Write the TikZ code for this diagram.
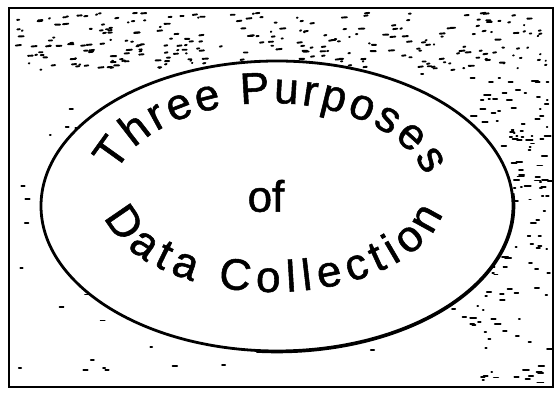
\documentclass[tikz,border=0pt]{standalone}
\usepackage{fontspec}
\newfontfamily\letterfont[FakeBold=1.2]{Liberation Sans}
\usetikzlibrary{decorations.text,shapes.geometric}
\tikzset{
  frame/.style={line width=2pt, draw=black},
  oval/.style={line width=2.8pt, draw=black, fill=white},
  speck/.style={line width=1.9pt, draw=black, line cap=round},
  arctext/.style={decorate, decoration={text along path, text align={fit to path}}}
}
\newcommand{\lettering}{\letterfont\fontsize{44}{44}\selectfont}
\begin{document}
\begin{tikzpicture}[x=1pt,y=1pt]
\useasboundingbox (0,0) rectangle (556,393);
\fill[white] (0,0) rectangle (556,393);
% scanner speckle
\pgfmathsetseed{4242}
\foreach \i in {1,...,260}{
  \pgfmathsetmacro\px{14+532*rnd}
  \pgfmathsetmacro\py{322+58*rnd}
  \pgfmathsetmacro\ln{0.5+5*rnd}
  \draw[speck] (\px,\py) -- ++(\ln,0.6*rnd);
}
\foreach \i in {1,...,160}{
  \pgfmathsetmacro\px{470+78*rnd}
  \pgfmathsetmacro\py{10+312*rnd}
  \pgfmathsetmacro\ln{0.5+6*rnd}
  \draw[speck] (\px,\py) -- ++(\ln,0);
}
\foreach \i in {1,...,70}{
  \pgfmathsetmacro\px{14+460*rnd}
  \pgfmathsetmacro\py{10+312*rnd}
  \pgfmathsetmacro\ln{0.5+4*rnd}
  \draw[speck] (\px,\py) -- ++(\ln,0);
}
% frame
\draw[frame] (9,385) rectangle (553,6);
% oval
\node[oval, ellipse, minimum width=472pt, minimum height=290pt, inner sep=0pt] (oval) at (277,187) {};
\draw[line width=1.6pt] ([shift={(oval.center)}]-95:237.5pt and 146.5pt)
  arc[start angle=-95, end angle=5, x radius=237.5pt, y radius=146.5pt];
% texts
\coordinate (tc) at (270,194);
\coordinate (bc) at (273,196);
\path[arctext, decoration={text={|\lettering|Three Purposes}}]
  ([shift={(tc)}]164:160pt and 96pt) arc[start angle=164, end angle=14, x radius=160pt, y radius=96pt];
\path[arctext, decoration={text={|\lettering|Data Collection}}]
  ([shift={(bc)}]192:172pt and 95pt) arc[start angle=192, end angle=350, x radius=172pt, y radius=95pt];
\node[font=\lettering, inner sep=0pt] (of) at (266,197) {of};
\end{tikzpicture}
\end{document}
